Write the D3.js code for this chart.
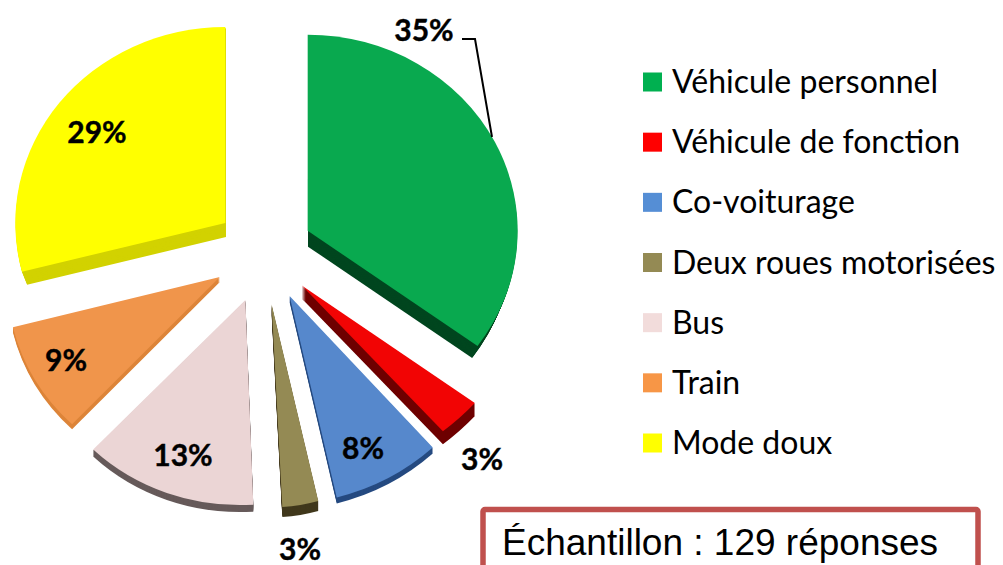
<!DOCTYPE html>
<html lang="fr">
<head>
<meta charset="utf-8">
<script src="https://cdn.jsdelivr.net/npm/d3@7"></script>
<style>
  html, body { margin: 0; background: #fff; overflow: hidden; }
  .pct { font: bold 30px Lato, sans-serif; fill: #000; stroke: #000; stroke-width: 0.4px; text-anchor: middle; dominant-baseline: central; }
  .legend-text { font: 32px Lato, sans-serif; fill: #000; dominant-baseline: central; }
  .sample { font: 37px "Liberation Sans", sans-serif; fill: #000; }
</style>
</head>
<body>
<div id="chart"></div>
<script>
const categories = ["Véhicule personnel", "Véhicule de fonction", "Co-voiturage", "Deux roues motorisées", "Bus", "Train", "Mode doux"];
const shares = [35, 3, 8, 3, 13, 9, 29];
const sampleText = "Échantillon : 129 réponses";

// look of the slices, same order as categories
const topColors = ["#09a94f", "#f20404", "#5688cc", "#948a54", "#ebd5d5", "#f0954b", "#ffff00"];
const wallColors = ["#00461f", "#6e0000", "#254a80", "#40381c", "#665a5a", "#dd8438", "#d2d200"];
const legendColors = ["#00b050", "#ff0000", "#558ed5", "#948a54", "#f2dcdb", "#f79646", "#ffff00"];
const wallDepths = [12, 13, 6, 10, 7, 5, 13];
const wallLean = [-0.45, 0, 0, 0, 0, 0, 0.4];
const labelSpots = [[424, 29], [482, 458], [363, 447], [300, 548], [183, 454], [66, 359], [97, 131]];

// the original is drawn in perspective, so near slices are stretched a little
const radiusY = [196, 200, 208, 203, 205, 202, 196];
const widen = [1, 1.098, 1.031, 0.92, 1.03, 1.014, 1];
const lean = [0, -0.109, -0.033, -0.007, -0.027, -0.013, 0];
const nudge = [[0, 0], [1, 0], [2, 0], [0, 3], [-2, 1], [-2, -1], [0, 0]];

const width = 1003;
const height = 565;
const center = { x: 264, y: 253 };
const radiusX = 210;
const explode = 49;

const svg = d3.select("#chart").append("svg").attr("width", width).attr("height", height).style("display", "block");

// the two big slices show no wall on their vertical edge
svg.append("clipPath").attr("id", "wall-right").append("rect").attr("x", 308).attr("y", 0).attr("width", width).attr("height", height);
svg.append("clipPath").attr("id", "wall-left").append("rect").attr("x", 0).attr("y", 0).attr("width", 226).attr("height", height);
const wallClips = ["url(#wall-right)", null, null, null, null, null, "url(#wall-left)"];

const slices = d3.pie().sort(null)(shares);
const arc = d3.arc().innerRadius(0).outerRadius(radiusX);

function sliceTransform(d, i, k) {
  const mid = (d.startAngle + d.endAngle) / 2;
  const x = center.x + explode * Math.sin(mid) + nudge[i][0] + k * wallLean[i];
  const y = center.y - explode * Math.cos(mid) + nudge[i][1] + k;
  return `matrix(${widen[i]},0,${lean[i]},${radiusY[i] / radiusX},${x},${y})`;
}

const sliceGroups = svg.append("g").selectAll("g").data(slices).join("g");

// side walls: the same wedge stacked downwards
sliceGroups.each(function (d, i) {
  d3.select(this)
    .append("g")
    .attr("clip-path", wallClips[i])
    .selectAll("path")
    .data(d3.range(wallDepths[i], 0, -1))
    .join("path")
    .attr("d", arc(d))
    .attr("fill", wallColors[i])
    .attr("transform", (k) => sliceTransform(d, i, k));
});

sliceGroups
  .append("path")
  .attr("d", (d) => arc(d))
  .attr("fill", (d, i) => topColors[i])
  .attr("transform", (d, i) => sliceTransform(d, i, 0));

// leader line of the 35% label
svg
  .append("path")
  .attr("d", d3.line()([[462, 39], [475, 39], [492, 137]]))
  .attr("fill", "none")
  .attr("stroke", "#000")
  .attr("stroke-width", 2);

svg
  .append("g")
  .selectAll("text")
  .data(shares)
  .join("text")
  .attr("class", "pct")
  .attr("x", (d, i) => labelSpots[i][0])
  .attr("y", (d, i) => labelSpots[i][1])
  .text((d) => `${d}%`);

const legendY = d3.scalePoint().domain(categories).range([82, 443]);
const legend = svg.append("g").selectAll("g").data(categories).join("g").attr("transform", (d) => `translate(643,${legendY(d)})`);

legend
  .append("rect")
  .attr("y", -9.5)
  .attr("width", 19)
  .attr("height", 19)
  .attr("fill", (d, i) => legendColors[i]);

legend
  .append("text")
  .attr("class", "legend-text")
  .attr("x", 29)
  .attr("y", -1.5)
  .text((d) => d);

svg
  .append("rect")
  .attr("x", 483)
  .attr("y", 509.5)
  .attr("width", 495)
  .attr("height", 80)
  .attr("rx", 2)
  .attr("fill", "#fff")
  .attr("stroke", "#c0504d")
  .attr("stroke-width", 5.5);

svg
  .append("text")
  .attr("class", "sample")
  .attr("x", 502)
  .attr("y", 555)
  .text(sampleText);
</script>
</body>
</html>
